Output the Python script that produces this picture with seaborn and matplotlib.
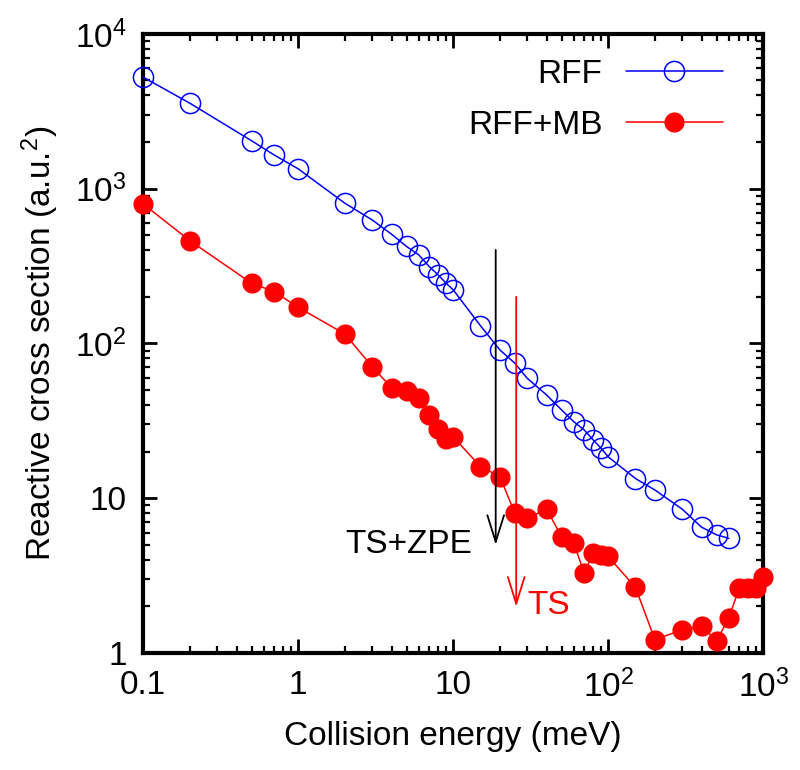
import seaborn as sns
import matplotlib.pyplot as plt
import matplotlib.ticker as mticker
import pandas as pd

# collision energy (meV) and reactive cross sections (a.u.^2)
energy_rff = [0.1, 0.2, 0.5, 0.7, 1, 2, 3, 4, 5, 6, 7, 8, 9, 10, 15, 20, 25, 30, 40,
              50, 60, 70, 80, 90, 100, 150, 200, 300, 400, 500, 600]
sigma_rff = [5250, 3565, 2040, 1650, 1343, 805, 628, 508, 423, 373, 314, 277, 245, 222,
             130, 90.8, 74.5, 59.6, 46.5, 37.2, 31.2, 27.6, 23.8, 21.0, 18.5, 13.4, 11.3,
             8.5, 6.5, 5.8, 5.5]
energy_mb = [0.1, 0.2, 0.5, 0.7, 1, 2, 3, 4, 5, 6, 7, 8, 9, 10, 15, 20, 25, 30, 40,
             50, 60, 70, 80, 90, 100, 150, 200, 300, 400, 500, 600, 700, 800, 900, 1000]
sigma_mb = [796, 461, 245, 216, 171, 115, 70.8, 51.8, 49.5, 44.7, 34.5, 28.0, 24.1, 24.9,
            16.0, 13.8, 8.0, 7.4, 8.5, 5.65, 5.1, 3.3, 4.4, 4.3, 4.2, 2.65, 1.22, 1.41,
            1.5, 1.2, 1.68, 2.62, 2.62, 2.62, 3.1]

ts_zpe = 18.8   # barrier + ZPE
ts = 25.5       # barrier

sns.set_style("ticks")
plt.rcParams["font.family"] = ["Liberation Sans", "DejaVu Sans"]
plt.rcParams["mathtext.fontset"] = "custom"
plt.rcParams["mathtext.rm"] = "Liberation Sans"
plt.rcParams["mathtext.it"] = "Liberation Sans"
plt.rcParams["font.size"] = 24
for k in ["text.color", "axes.labelcolor", "xtick.color", "ytick.color"]:
    plt.rcParams[k] = "black"

fig = plt.figure(figsize = (8, 7.7), dpi = 100)
ax = fig.add_axes([0.179, 0.152, 0.775, 0.804])

df_rff = pd.DataFrame({"E": energy_rff, "s": sigma_rff})
df_mb = pd.DataFrame({"E": energy_mb, "s": sigma_mb})

sns.lineplot(data = df_rff, x = "E", y = "s", ax = ax, color = "#0000FF", lw = 1.1,
             marker = "o", markersize = 14.5, markerfacecolor = "none",
             markeredgecolor = "#0000FF", markeredgewidth = 1.1, label = "RFF",
             estimator = None, sort = False, clip_on = False, zorder = 3)
sns.lineplot(data = df_mb, x = "E", y = "s", ax = ax, color = "#FF0000", lw = 1.1,
             marker = "o", markersize = 14.5, markerfacecolor = "#FF0000",
             markeredgecolor = "#FF0000", markeredgewidth = 0, label = "RFF+MB",
             estimator = None, sort = False, clip_on = False, zorder = 3)

ax.set_xscale("log")
ax.set_yscale("log")
ax.set_xlim(0.1, 1000)
ax.set_ylim(1, 1e4)

# arrows marking the barrier heights
ax.annotate("", xy = (ts_zpe, 4.99), xytext = (ts_zpe, 402),
            arrowprops = dict(arrowstyle = "->,head_length=0.8,head_width=0.25", color = "black",
                              lw = 1.3, shrinkA = 0, shrinkB = 0))
ax.annotate("", xy = (ts, 1.99), xytext = (ts, 200),
            arrowprops = dict(arrowstyle = "->,head_length=0.8,head_width=0.25", color = "#FF0000",
                              lw = 1.3, shrinkA = 0, shrinkB = 0))
ax.text(13.3, 5.0, "TS+ZPE", ha = "right", va = "center", color = "black")
ax.text(30, 2.04, "TS", ha = "left", va = "center", color = "#FF0000")

ax.xaxis.set_major_locator(mticker.FixedLocator([0.1, 1, 10, 100, 1000]))
ax.xaxis.set_major_formatter(mticker.FixedFormatter(["0.1", "1", "10", "$10^2$", "$10^3$"]))
ax.yaxis.set_major_locator(mticker.FixedLocator([1, 10, 100, 1000, 10000]))
ax.yaxis.set_major_formatter(mticker.FixedFormatter(["1", "10", "$10^2$", "$10^3$", "$10^4$"]))
ax.xaxis.set_minor_locator(mticker.LogLocator(base = 10, subs = range(2, 10), numticks = 20))
ax.yaxis.set_minor_locator(mticker.LogLocator(base = 10, subs = range(2, 10), numticks = 20))
ax.xaxis.set_minor_formatter(mticker.NullFormatter())
ax.yaxis.set_minor_formatter(mticker.NullFormatter())

ax.tick_params(which = "both", direction = "in", top = True, right = True, colors = "black")
ax.tick_params(which = "major", length = 10, width = 2, pad = 12)
ax.tick_params(which = "minor", length = 5, width = 1.6)
for sp in ax.spines.values():
    sp.set_visible(True)
    sp.set_linewidth(3)
    sp.set_color("black")

ax.set_xlabel("Collision energy (meV)", labelpad = 12)
ax.set_ylabel("Reactive cross section (a.u.$^2$)", labelpad = 10)

leg = ax.legend(loc = "upper right", bbox_to_anchor = (0.956, 0.981), frameon = False,
                markerfirst = False, handlelength = 2.9, handletextpad = 0.7,
                labelspacing = 0.6, borderaxespad = 0)

plt.savefig("out.png", dpi = 100)
plt.close()
